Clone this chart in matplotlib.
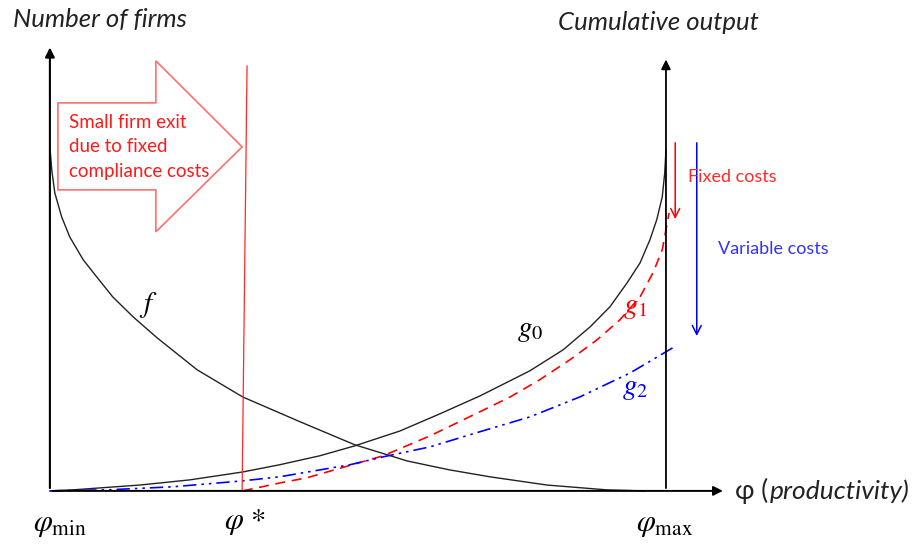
import matplotlib.pyplot as plt

# productivity runs from phi_min (0) to phi_max (1); heights are relative to f(phi_min)
f_x = [0, 0.003, 0.008, 0.019, 0.032, 0.054, 0.076, 0.102, 0.135, 0.174, 0.239, 0.313,
       0.406, 0.495, 0.580, 0.649, 0.714, 0.807, 0.904, 0.966]
f_y = [1.0, 0.933, 0.866, 0.797, 0.739, 0.672, 0.622, 0.564, 0.506, 0.445, 0.352, 0.273,
       0.201, 0.134, 0.087, 0.061, 0.041, 0.017, 0.003, 0]

g0_x = [0, 0.037, 0.146, 0.227, 0.313, 0.373, 0.438, 0.495, 0.568, 0.633, 0.698, 0.779,
        0.833, 0.877, 0.909, 0.937, 0.958, 0.974, 0.985, 0.994, 0.998, 1.0]
g0_y = [0, 0.003, 0.017, 0.032, 0.055, 0.076, 0.102, 0.131, 0.174, 0.224, 0.276, 0.349,
        0.410, 0.477, 0.535, 0.605, 0.663, 0.730, 0.788, 0.855, 0.924, 0.991]

g1_x = [0.313, 0.373, 0.417, 0.541, 0.617, 0.698, 0.747, 0.795, 0.844, 0.888, 0.925,
        0.958, 0.979, 0.994, 1.005]
g1_y = [0, 0.023, 0.038, 0.102, 0.160, 0.230, 0.273, 0.323, 0.381, 0.439, 0.497,
        0.564, 0.634, 0.701, 0.808]

g2_x = [0, 0.093, 0.200, 0.312, 0.373, 0.487, 0.541, 0.617, 0.698, 0.779, 0.860, 0.942, 1.011]
g2_y = [0, 0.003, 0.012, 0.029, 0.041, 0.076, 0.099, 0.128, 0.172, 0.215, 0.273, 0.343, 0.416]

phi_star_x = [0.312, 0.320]
phi_star_y = [0, 1.235]

box_text = "Small firm exit\ndue to fixed\ncompliance costs"

fig = plt.figure(figsize=(9.13, 5.48), dpi=100)
ax = fig.add_axes([0, 0, 1, 1])
ax.set_xlim(-0.081, 1.401)
ax.set_ylim(-0.166, 1.427)
ax.axis("off")

ui = ["Lato", "DejaVu Sans"]
plt.rcParams["mathtext.fontset"] = "stix"

# axes with arrow heads
ax.annotate("", xy=(0, 1.297), xytext=(0, 0),
            arrowprops=dict(arrowstyle="-|>", color="black", lw=1.5, mutation_scale=14))
ax.annotate("", xy=(1.0, 1.262), xytext=(1.0, 0),
            arrowprops=dict(arrowstyle="-|>", color="black", lw=1.3, mutation_scale=14))
ax.annotate("", xy=(1.097, 0), xytext=(0, 0),
            arrowprops=dict(arrowstyle="-|>", color="black", lw=1.4, mutation_scale=14))

# big block arrow
arrow_x = [0.013, 0.172, 0.172, 0.312, 0.172, 0.172, 0.013]
arrow_y = [1.128, 1.128, 1.250, 1.0, 0.753, 0.875, 0.875]
ax.fill(arrow_x, arrow_y, facecolor="white", edgecolor="#ff7070", lw=1.2, zorder=2)
ax.text(0.031, 1.0, box_text, color="#ff1a1a", fontsize=13.5, family=ui,
        va="center", ha="left", linespacing=1.55, zorder=3)

# curves
ax.plot(f_x, f_y, color="#222222", lw=1.0)
ax.plot(g0_x, g0_y, color="#222222", lw=1.0)
ax.plot(g1_x, g1_y, color="red", lw=1.2, dashes=(6, 4))
ax.plot(g2_x, g2_y, color="blue", lw=1.2, dashes=(8, 3, 1.5, 3, 1.5, 3))
ax.plot(phi_star_x, phi_star_y, color="#ff2a2a", lw=0.9)

# cost arrows
ax.annotate("", xy=(1.015, 0.782), xytext=(1.015, 1.020),
            arrowprops=dict(arrowstyle="->", color="red", lw=1.1, mutation_scale=16))
ax.annotate("", xy=(1.050, 0.442), xytext=(1.050, 1.020),
            arrowprops=dict(arrowstyle="->", color="blue", lw=1.1, mutation_scale=16))
ax.text(1.036, 0.913, "Fixed costs", color="#ff2a2a", fontsize=13, family=ui, va="center")
ax.text(1.084, 0.703, "Variable costs", color="#3333ff", fontsize=13, family=ui, va="center")

# titles
ax.text(-0.060, 1.369, "Number of firms", fontsize=18.5, style="italic", family=ui,
        color="#222222", va="center")
ax.text(0.825, 1.363, "Cumulative output", fontsize=18.5, style="italic", family=ui,
        color="#222222", va="center")

# curve labels
ax.text(0.159, 0.541, r"$f$", fontsize=21, ha="center", va="center")
ax.text(0.779, 0.468, r"$g_{\mathit{0}}$", fontsize=21, ha="center", va="center")
ax.text(0.950, 0.535, r"$g_{\mathit{1}}$", fontsize=21, color="red", ha="center", va="center")
ax.text(0.950, 0.299, r"$g_{\mathit{2}}$", fontsize=21, color="blue", ha="center", va="center")

# x-axis labels
ax.text(0.016, -0.099, r"$\varphi_{\mathrm{min}}$", fontsize=22, ha="center", va="center")
ax.text(0.317, -0.090, r"$\varphi$ *", fontsize=22, ha="center", va="center",
        family="STIXGeneral")
ax.text(0.998, -0.099, r"$\varphi_{\mathrm{max}}$", fontsize=22, ha="center", va="center")
ax.text(1.112, 0.0, "φ (", fontsize=19, family=ui, color="#222222", va="center")
ax.text(1.168, 0.0, "productivity)", fontsize=19, style="italic", family=ui,
        color="#222222", va="center")

fig.savefig("out.png", dpi=100)
